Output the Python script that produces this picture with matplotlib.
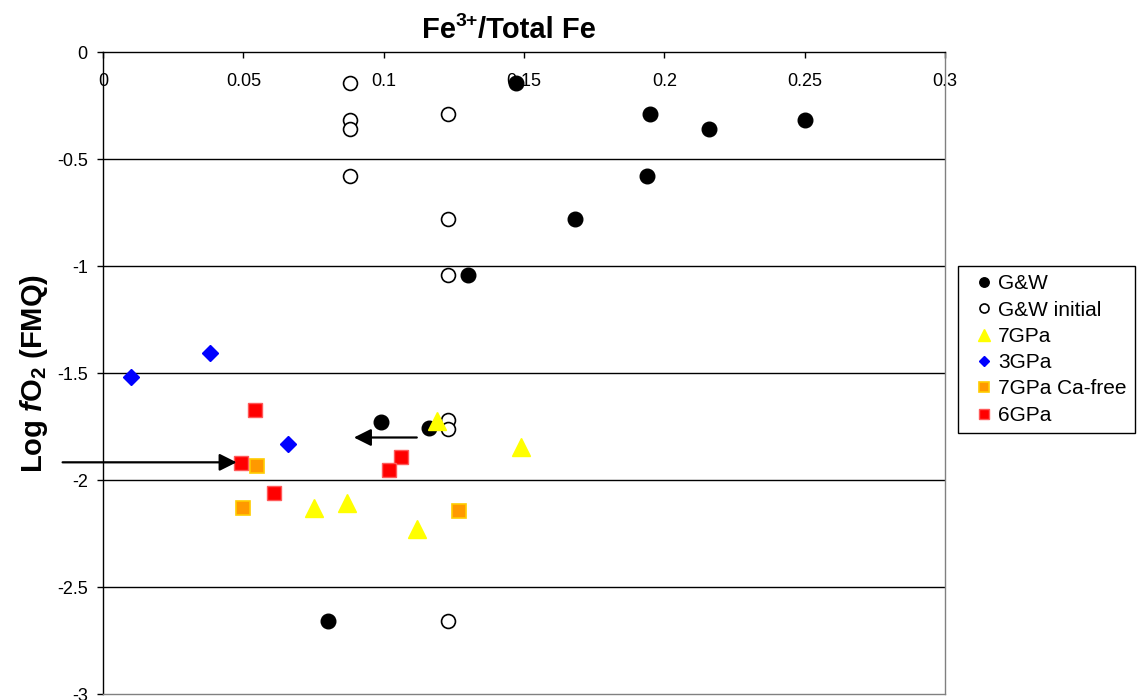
import matplotlib
matplotlib.use("Agg")
import matplotlib.pyplot as plt

plt.rcParams["font.family"] = ["Liberation Sans", "DejaVu Sans"]
plt.rcParams["mathtext.fontset"] = "custom"
plt.rcParams["mathtext.rm"] = "Liberation Sans:bold"
plt.rcParams["mathtext.it"] = "Liberation Sans:italic:bold"
plt.rcParams["mathtext.bf"] = "Liberation Sans:bold"
plt.rcParams["axes.unicode_minus"] = False

# Fe3+/total Fe ratio (x) and log fO2 relative to FMQ (y) for each data set
gw_x = [0.147, 0.195, 0.216, 0.250, 0.194, 0.168, 0.130, 0.099, 0.116, 0.080]
gw_y = [-0.145, -0.288, -0.358, -0.315, -0.578, -0.779, -1.040, -1.727, -1.756, -2.657]

gw_init_x = [0.088, 0.088, 0.088, 0.088, 0.123, 0.123, 0.123, 0.123, 0.123, 0.123]
gw_init_y = [-0.145, -0.316, -0.360, -0.578, -0.288, -0.779, -1.040, -1.720, -1.760, -2.657]

gpa7_x = [0.119, 0.149, 0.075, 0.087, 0.112]
gpa7_y = [-1.725, -1.844, -2.129, -2.106, -2.228]

gpa3_x = [0.010, 0.038, 0.066]
gpa3_y = [-1.519, -1.405, -1.830]

gpa7_cafree_x = [0.055, 0.050, 0.127]
gpa7_cafree_y = [-1.932, -2.131, -2.145]

gpa6_x = [0.054, 0.049, 0.061, 0.106, 0.102]
gpa6_y = [-1.670, -1.919, -2.059, -1.890, -1.953]

# Arrows: tail and head positions in data units
arrow_tails = [(0.1118, -1.800), (-0.0144, -1.916)]
arrow_heads = [(0.0894, -1.800), (0.0476, -1.916)]

x_ticks = [0, 0.05, 0.1, 0.15, 0.2, 0.25, 0.3]
x_tick_labels = ["0", "0.05", "0.1", "0.15", "0.2", "0.25", "0.3"]
y_ticks = [0, -0.5, -1, -1.5, -2, -2.5, -3]
y_tick_labels = ["0", "-0.5", "-1", "-1.5", "-2", "-2.5", "-3"]

# title pieces: base, superscript, remainder
title_parts = ["Fe", "3+", "/Total Fe"]

W, H = 1138, 700
fig = plt.figure(figsize=(W / 100, H / 100), dpi=100)
ax = fig.add_axes([103 / W, 1 - 694.3 / H, (945 - 103) / W, (694.3 - 52.3) / H])

ax.set_xlim(0, 0.3)
ax.set_ylim(-3, 0)

# horizontal gridlines
for yv in y_ticks[1:-1]:
    ax.axhline(yv, color="black", lw=1.0, zorder=1)

ax.plot(gw_x, gw_y, ls="none", marker="o", ms=10.5, mfc="black", mec="black",
        label="G&W", zorder=3)
ax.plot(gw_init_x, gw_init_y, ls="none", marker="o", ms=10, mfc="white", mec="black",
        mew=1.2, label="G&W initial", zorder=3)
ax.plot(gpa7_x, gpa7_y, ls="none", marker="^", ms=13.5, mfc="#FFFF00", mec="#FFFF00",
        label="7GPa", zorder=3)
ax.plot(gpa3_x, gpa3_y, ls="none", marker="D", ms=8.5, mfc="#0000FF", mec="#0000FF",
        label="3GPa", zorder=3)
ax.plot(gpa7_cafree_x, gpa7_cafree_y, ls="none", marker="s", ms=10.5, mfc="#FF9900",
        mec="#FFCC00", mew=1.2, label="7GPa Ca-free", zorder=3)
ax.plot(gpa6_x, gpa6_y, ls="none", marker="s", ms=10.5, mfc="#FF0000", mec="#FF5A5A",
        mew=1.0, label="6GPa", zorder=3)

for tail, head in zip(arrow_tails, arrow_heads):
    ax.annotate("", xy=head, xytext=tail, annotation_clip=False,
                arrowprops=dict(arrowstyle="-|>", lw=1.6, color="black",
                                mutation_scale=26, shrinkA=0, shrinkB=0),
                zorder=4)

# axes frame
ax.spines["top"].set_color("black")
ax.spines["left"].set_color("black")
ax.spines["right"].set_color("#808080")
ax.spines["bottom"].set_color("#808080")
for s in ax.spines.values():
    s.set_linewidth(1.0)

ax.xaxis.set_ticks_position("top")
ax.set_xticks(x_ticks)
ax.set_xticklabels(x_tick_labels)
ax.tick_params(axis="x", direction="in", length=4, width=1.0, pad=-27.5,
               labelsize=13, top=True, bottom=False, labeltop=True, labelbottom=False)
ax.set_yticks(y_ticks)
ax.set_yticklabels(y_tick_labels)
ax.tick_params(axis="y", direction="out", length=4, width=1.0, pad=7, labelsize=13)

ax.set_ylabel(r"Log $\mathit{f}$O$_2$ (FMQ)", fontsize=21, fontweight="bold", labelpad=5)

# title assembled from pieces so the superscript sits tight against its neighbours
renderer = fig.canvas.get_renderer()
baseline_px = H - 37.5
t_base = fig.text(0, 0, title_parts[0], fontsize=21, fontweight="bold", va="baseline")
t_sup = fig.text(0, 0, title_parts[1], fontsize=14, fontweight="bold", va="baseline")
t_rest = fig.text(0, 0, title_parts[2], fontsize=21, fontweight="bold", va="baseline")
w_base = t_base.get_window_extent(renderer).width
w_sup = t_sup.get_window_extent(renderer).width
w_rest = t_rest.get_window_extent(renderer).width
total = w_base + w_sup + w_rest
x0 = 509 - total / 2
t_base.set_position((x0 / W, baseline_px / H))
t_sup.set_position(((x0 + w_base) / W, (baseline_px + 11) / H))
t_rest.set_position(((x0 + w_base + w_sup) / W, baseline_px / H))

leg = ax.legend(loc="upper left", bbox_to_anchor=(958 / W, 1 - 266 / H),
                bbox_transform=fig.transFigure, borderaxespad=0, fontsize=15,
                frameon=True, fancybox=False, edgecolor="black", framealpha=1,
                markerscale=0.65, handlelength=1.7, handletextpad=-0.18,
                borderpad=0.4, labelspacing=0.35)
leg.get_frame().set_linewidth(1.0)

fig.savefig("out.png", dpi=100)
